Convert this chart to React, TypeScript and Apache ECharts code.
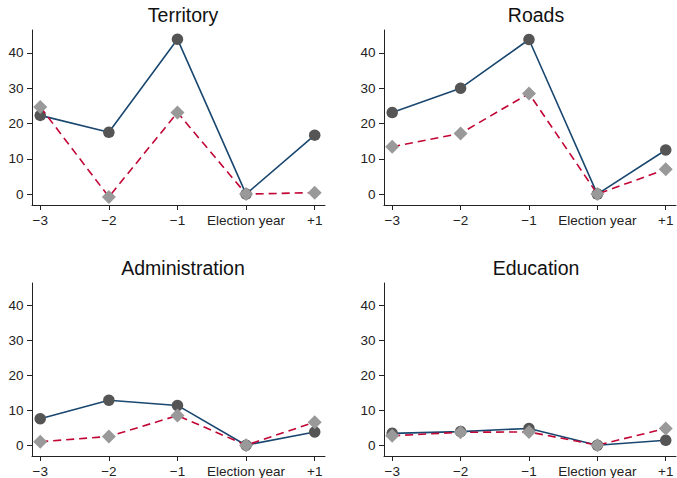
import React, { useEffect, useRef } from "react";
import * as echarts from "echarts";

const years = [-3, -2, -1, 0, 1];
const yearLabels = ["\u22123", "\u22122", "\u22121", "Election year", "+1"];
const yTicks = [0, 10, 20, 30, 40];
const panelTitles = ["Territory", "Roads", "Administration", "Education"];

const territoryA = [22.3, 17.5, 43.9, 0, 16.7];
const territoryB = [24.7, -0.8, 23.1, 0, 0.4];
const roadsA = [23.1, 30.0, 43.8, 0, 12.5];
const roadsB = [13.4, 17.2, 28.5, 0, 7.0];
const adminA = [7.6, 12.9, 11.4, 0, 3.8];
const adminB = [1.0, 2.5, 8.5, 0, 6.6];
const eduA = [3.4, 3.9, 4.8, 0, 1.4];
const eduB = [2.7, 3.7, 3.8, 0, 4.8];

const seriesA = [territoryA, roadsA, adminA, eduA];
const seriesB = [territoryB, roadsB, adminB, eduB];

const FONT = "Liberation Sans, Arial, sans-serif";

export default function App() {
  const ref = useRef<HTMLDivElement>(null);
  useEffect(() => {
    if (!ref.current) return;
    const chart = echarts.init(ref.current, undefined, { renderer: "svg" });
    const grids = [
      { left: 32, top: 30, width: 293, height: 175 },
      { left: 384, top: 30, width: 292, height: 175 },
      { left: 32, top: 283, width: 293, height: 175 },
      { left: 384, top: 283, width: 292, height: 175 },
    ];
    const titleCenters = [
      { x: 178, y: 0 },
      { x: 531, y: 0 },
      { x: 178, y: 253 },
      { x: 531, y: 253 },
    ];
    const axisColor = "#222";
    const option: any = {
      animation: false,
      backgroundColor: "#ffffff",
      title: panelTitles.map((t, i) => ({
        text: t,
        left: titleCenters[i].x,
        top: titleCenters[i].y,
        textAlign: "center",
        textStyle: { fontFamily: FONT, fontSize: 19.5, fontWeight: "normal", color: "#111" },
      })),
      grid: grids.map((g) => ({ ...g, containLabel: false })),
      xAxis: grids.map((_, i) => ({
        type: "value",
        gridIndex: i,
        min: -3.12,
        max: 1.15,
        splitLine: { show: false },
        axisLine: { show: true, onZero: false, lineStyle: { color: axisColor, width: 1 } },
        axisTick: { show: true, length: 5, customValues: years, lineStyle: { color: axisColor } },
        axisLabel: {
          show: true,
          customValues: years,
          margin: 8,
          fontFamily: FONT,
          fontSize: 13.5,
          color: "#222",
          formatter: (v: number) => {
            const idx = years.indexOf(Math.round(v));
            return idx >= 0 ? yearLabels[idx] : "";
          },
        },
      })),
      yAxis: grids.map((_, i) => ({
        type: "value",
        gridIndex: i,
        min: -3.1,
        max: 46.5,
        splitLine: { show: false },
        axisLine: { show: true, onZero: false, lineStyle: { color: axisColor, width: 1 } },
        axisTick: { show: true, length: 5, customValues: yTicks, lineStyle: { color: axisColor } },
        axisLabel: {
          show: true,
          customValues: yTicks,
          margin: 8.5,
          fontFamily: FONT,
          fontSize: 13.5,
          color: "#222",
        },
      })),
      series: [
        ...seriesA.map((d, i) => ({
          type: "line",
          xAxisIndex: i,
          yAxisIndex: i,
          data: years.map((x, j) => [x, d[j]]),
          symbol: "circle",
          symbolSize: 11.5,
          lineStyle: { color: "#1a476f", width: 1.6 },
          itemStyle: { color: "#555555" },
          z: 2,
        })),
        ...seriesB.map((d, i) => ({
          type: "line",
          xAxisIndex: i,
          yAxisIndex: i,
          data: years.map((x, j) => [x, d[j]]),
          symbol: "diamond",
          symbolSize: [14, 14],
          lineStyle: { color: "#c10534", width: 1.6, type: [8, 5] },
          itemStyle: { color: "#999999" },
          z: 3,
        })),
      ],
    };
    chart.setOption(option);
    return () => chart.dispose();
  }, []);
  return (
    <div
      ref={ref}
      style={{ position: "fixed", left: 0, top: 0, width: 677, height: 478, background: "#fff" }}
    />
  );
}
